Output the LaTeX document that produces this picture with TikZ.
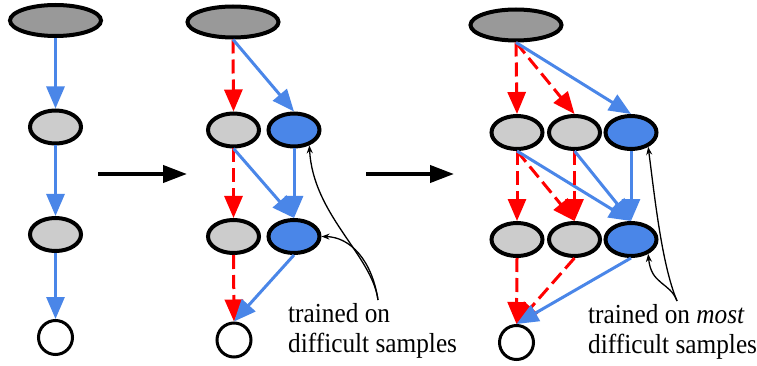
\documentclass[tikz,border=0pt]{standalone}
\usepackage{fontspec}
\setmainfont{Liberation Serif}
\newfontfamily\annfont[FakeStretch=0.92]{Liberation Serif}
\usetikzlibrary{arrows.meta,shapes.geometric}
\definecolor{nblue}{HTML}{4A86E8}
\definecolor{dgray}{HTML}{999999}
\definecolor{lgray}{HTML}{CCCCCC}
\begin{document}
\begin{tikzpicture}[x=1pt,y=-1pt,
 topnode/.style={ellipse,draw=black,line width=4pt,fill=dgray,minimum width=91pt,minimum height=31pt,inner sep=0pt},
 gnode/.style={ellipse,draw=black,line width=4pt,fill=lgray,minimum width=51pt,minimum height=33pt,inner sep=0pt},
 bnode/.style={gnode,fill=nblue},
 outnode/.style={circle,draw=black,line width=3pt,fill=white,minimum size=34pt,inner sep=0pt},
 blarrow/.style={draw=nblue,line width=3pt,-{Triangle[length=22pt,width=18pt,fill=nblue]}},
 rdarrow/.style={draw=red,line width=3pt,dash pattern=on 14pt off 6pt,-{Triangle[length=22pt,width=18pt,fill=red]}},
 bigarrow/.style={line width=4pt,-{Triangle[length=24pt,width=17pt]}},
 annot/.style={line width=1.3pt,-{Stealth[length=8pt,width=6pt]}},
 annotext/.style={anchor=base west,align=left,font=\annfont\fontsize{27.5}{30}\selectfont,inner sep=0pt}
]
\useasboundingbox (0,0) rectangle (757,366);

% Panel 1
\node[topnode] (T1) at (55.5,20.5) {};
\node[gnode] (A1) at (55.5,127) {};
\node[gnode] (B1) at (55.5,234.5) {};
\node[outnode] (C1) at (55.5,337.5) {};
\draw[blarrow] (T1.south) -- (A1.north);
\draw[blarrow] (A1.south) -- (B1.north);
\draw[blarrow] (B1.south) -- (C1.north);

% big arrows
\coordinate (ba1s) at (98,174);
\coordinate (ba1e) at (187,174);
\coordinate (ba2s) at (366,174);
\coordinate (ba2e) at (454,174);
\draw[bigarrow] (ba1s) -- (ba1e);
\draw[bigarrow] (ba2s) -- (ba2e);

% Panel 2
\node[topnode] (T2) at (233,22) {};
\node[gnode] (A2g) at (233.5,130) {};
\node[bnode] (A2b) at (294,130) {};
\node[gnode] (B2g) at (233.5,236.5) {};
\node[bnode] (B2b) at (294,236.5) {};
\node[outnode] (C2) at (234,340) {};
\draw[rdarrow] (T2.south) -- (A2g.north);
\draw[blarrow] (T2.south) -- (A2b.north);
\draw[rdarrow] (A2g.south) -- (B2g.north);
\draw[blarrow] (A2g.south) -- (B2b.north);
\draw[blarrow] (A2b.south) -- (B2b.north);
\draw[rdarrow] (B2g.south) -- (C2.north);
\draw[blarrow] (B2b.south) -- (C2.north);

\node[annotext] (t2) at (288,352) {trained on\\difficult samples};
\coordinate (n2) at (378,300);
\draw[annot] (n2) .. controls (372,255) and (313,215) .. (A2b.-45);
\draw[annot] (n2) .. controls (372,260) and (350,237) .. (B2b.east);

% Panel 3
\node[topnode] (T3) at (516,25) {};
\node[gnode] (A3g1) at (517,132.5) {};
\node[gnode] (A3g2) at (574.5,132.5) {};
\node[bnode] (A3b) at (631,132.5) {};
\node[gnode] (B3g1) at (517,239.5) {};
\node[gnode] (B3g2) at (574.5,239.5) {};
\node[bnode] (B3b) at (631,239.5) {};
\node[outnode] (C3) at (516.5,342.5) {};
\draw[rdarrow] (T3.south) -- (A3g1.north);
\draw[rdarrow] (T3.south) -- (A3g2.north);
\draw[blarrow] (T3.south) -- (A3b.north);
\draw[rdarrow] (A3g1.south) -- (B3g1.north);
\draw[rdarrow] (A3g1.south) -- (B3g2.north);
\draw[blarrow] (A3g1.south) -- (B3b.north);
\draw[rdarrow] (A3g2.south) -- (B3g2.north);
\draw[blarrow] (A3g2.south) -- (B3b.north);
\draw[blarrow] (A3b.south) -- (B3b.north);
\draw[rdarrow] (B3g1.south) -- (C3.north);
\draw[rdarrow] (B3g2.south) -- (C3.north);
\draw[blarrow] (B3b.south) -- (C3.north);

\node[annotext] (t3) at (588,353) {trained on \textit{most}\\difficult samples};
\coordinate (n3) at (677,301);
\draw[annot] (n3) .. controls (662,265) and (655,200) .. (A3b.-40);
\draw[annot] (n3) .. controls (670,282) and (651,285) .. (B3b.-40);
\end{tikzpicture}
\end{document}
